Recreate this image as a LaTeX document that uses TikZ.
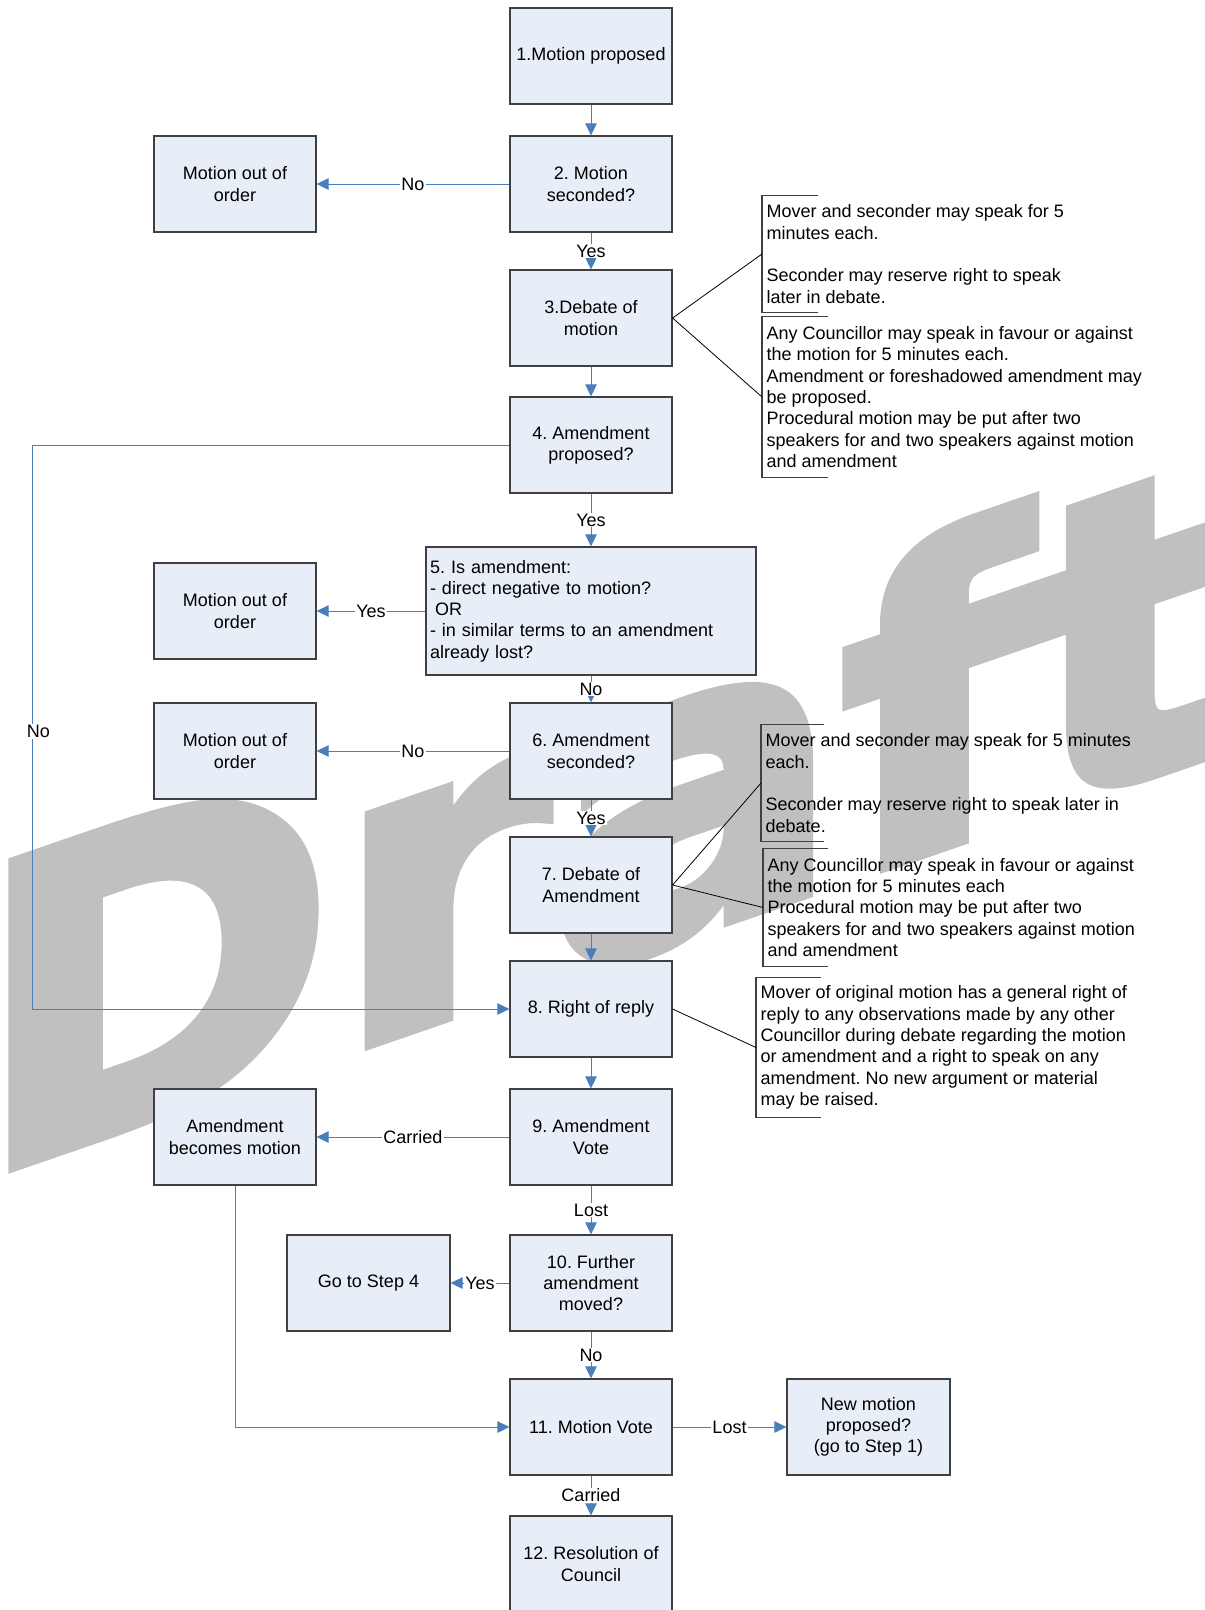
\documentclass[tikz,border=0pt]{standalone}
\usepackage{fontspec}
\setmainfont{Liberation Sans}
\newfontfamily\draftfont{DejaVu Sans}[FakeBold=3]
\usetikzlibrary{arrows.meta}

\definecolor{boxfill}{HTML}{E8EEF7}
\definecolor{boxline}{HTML}{404040}
\definecolor{flowblue}{HTML}{4A7EBB}
\definecolor{draftgray}{HTML}{C0C0C0}

\begin{document}
\frenchspacing
\begin{tikzpicture}[%
      x=1pt, y=1pt,
      every node/.style={font=\fontsize{18}{21.3}\selectfont},
      stepbox/.style={draw=boxline, line width=1.2pt, fill=boxfill,
        minimum width=162pt, minimum height=96pt, align=center, inner sep=2pt},
      flow/.style={draw=flowblue, line width=1pt,
        -{Triangle[length=12pt,width=11.5pt]}},
      lbl/.style={fill=white, inner sep=1pt},
      note/.style={anchor=west, align=left, inner xsep=4.5pt, inner ysep=0pt},
      tie/.style={draw=black, line width=0.8pt},
      bracket/.style={draw=boxline, line width=1.2pt},
      draftmark/.style={font=\draftfont\bfseries\fontsize{442}{442}\selectfont,
        text=draftgray, anchor=base west, inner sep=0pt,
        yslant=0.344, yscale=0.94, xscale=0.98},
      ]
      \useasboundingbox (0,0) rectangle (1205,-1610);

      % watermark
      \node[draftmark] (draft) at (-25,-1179) {Draft};

      % main column
      \node[stepbox] (b1) at (591,-56) {1.Motion proposed};
      \node[stepbox] (b2) at (591,-184) {2. Motion\\seconded?};
      \node[stepbox] (b3) at (591,-318) {3.Debate of\\motion};
      \node[stepbox] (b4) at (591,-445) {4. Amendment\\proposed?};
      \node[stepbox, minimum width=330pt, minimum height=128pt, text width=322pt,
        align=left, inner xsep=4pt] (b5) at (591,-611)
        {5. Is amendment:\\- direct negative to motion?\\\hspace*{0.278em}OR\\- in similar terms to an amendment\\already lost?};
      \node[stepbox] (b6) at (591,-751) {6. Amendment\\seconded?};
      \node[stepbox] (b7) at (591,-885) {7. Debate of\\Amendment};
      \node[stepbox] (b8) at (591,-1009) {8. Right of reply};
      \node[stepbox] (b9) at (591,-1137) {9. Amendment\\Vote};
      \node[stepbox] (b10) at (591,-1283) {10. Further\\amendment\\moved?};
      \node[stepbox] (b11) at (591,-1427) {11. Motion Vote};
      \node[stepbox] (b12) at (591,-1564) {12. Resolution of\\Council};

      % side boxes
      \node[stepbox] (out1) at (235,-184) {Motion out of\\order};
      \node[stepbox] (out2) at (235,-611) {Motion out of\\order};
      \node[stepbox] (out3) at (235,-751) {Motion out of\\order};
      \node[stepbox] (amd) at (235,-1137) {Amendment\\becomes motion};
      \node[stepbox, minimum width=163pt] (go4) at (368.5,-1283) {Go to Step 4};
      \node[stepbox, minimum width=163pt] (newm) at (868.5,-1427) {New motion\\proposed?\\(go to Step 1)};

      \draw[flow] (b1) -- (b2);
      \draw[flow] (b2) -- node[lbl]{No} (out1);
      \draw[flow] (b2) -- node[lbl]{Yes} (b3);
      \draw[flow] (b3) -- (b4);
      \draw[flow] (b4) -- node[lbl]{Yes} (b5);
      \coordinate (loop) at (32,-445);
      \draw[flow] (b4.west) -- (loop) |- node[lbl, pos=0.25, xshift=6.5pt, yshift=-4.5pt]{No} (b8.west);
      \draw[flow] (b5) -- node[lbl]{Yes} (out2);
      \draw[flow] (b5) -- node[lbl]{No} (b6);
      \draw[flow] (b6) -- node[lbl]{No} (out3);
      \draw[flow] (b6) -- node[lbl]{Yes} (b7);
      \draw[flow] (b7) -- (b8);
      \draw[flow] (b8) -- (b9);
      \draw[flow] (b9) -- node[lbl]{Carried} (amd);
      \draw[flow] (b9) -- node[lbl]{Lost} (b10);
      \draw[flow] (b10) -- node[lbl]{Yes} (go4);
      \draw[flow] (b10) -- node[lbl]{No} (b11);
      \draw[flow] (amd) |- (b11);
      \draw[flow] (b11) -- node[lbl]{Lost} (newm);
      \draw[flow] (b11) -- node[lbl]{Carried} (b12);

      % notes
      \node[note, minimum height=116pt] (n1) at (762,-254)
        {Mover and seconder may speak for 5\\minutes each.\\\mbox{}\\Seconder may reserve right to speak\\later in debate.};
      \node[note, minimum height=160pt] (n2) at (762,-397)
        {Any Councillor may speak in favour or against\\the motion for 5 minutes each.\\Amendment or foreshadowed amendment may\\be proposed.\\Procedural motion may be put after two\\speakers for and two speakers against motion\\and amendment};
      \node[note, minimum height=116pt] (n3) at (761,-783)
        {Mover and seconder may speak for 5 minutes\\each.\\\mbox{}\\Seconder may reserve right to speak later in\\debate.};
      \node[note, minimum height=117pt] (n4) at (763,-907.5)
        {Any Councillor may speak in favour or against\\the motion for 5 minutes each\\Procedural motion may be put after two\\speakers for and two speakers against motion\\and amendment};
      \node[note, minimum height=139pt] (n5) at (756,-1047.5)
        {Mover of original motion has a general right of\\reply to any observations made by any other\\Councillor during debate regarding the motion\\or amendment and a right to speak on any\\amendment. No new argument or material\\may be raised.};

      \foreach \n/\w in {n1/56, n2/66, n3/63, n4/65, n5/65}
        \draw[bracket] (\n.north west) ++(\w,0) -- (\n.north west) -- (\n.south west) -- ++(\w,0);

      \draw[tie] (b3.east) -- (n1.west);
      \draw[tie] (b3.east) -- (n2.west);
      \draw[tie] (b7.east) -- (n3.west);
      \draw[tie] (b7.east) -- (n4.west);
      \draw[tie] (b8.east) -- (n5.west);
\end{tikzpicture}
\end{document}
